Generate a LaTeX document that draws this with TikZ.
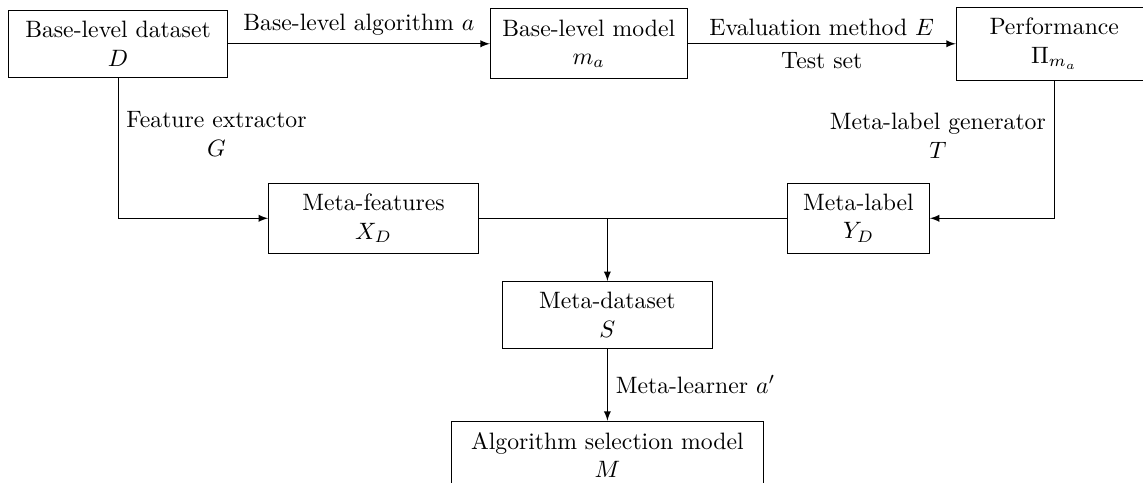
\documentclass[tikz,border=0pt]{standalone}
\usetikzlibrary{
    arrows,
    positioning
}
\tikzstyle{block} = [draw, rectangle, align=center, inner xsep=3.33pt, inner ysep=4.6pt]
\tikzstyle{link} = [->, >=latex]
\tikzstyle{linklabel} = [align=center]

\begin{document}
\begin{tikzpicture}
    \node[block, minimum width=92.4pt] (D) {Base-level dataset\\ $D$};
    \node[block, minimum width=83.1pt] (ma) [right=110.5pt of D] {Base-level model\\ $m_a$};
    \node[block, minimum width=82.7pt] (perf) [right=113.1pt of ma] {Performance\\ $\Pi_{m_a}$};

    \node[block, minimum width=88.6pt] (feat) [below right=44.3pt and 16.9pt of D] {Meta-features\\ $X_D$};
    \node[block, minimum width=59.9pt] (mlabel) [right=130pt of feat] {Meta-label\\ $Y_D$};

    \node[block, minimum width=88.6pt] (mdata) [below right=11.4pt and 9.7pt of feat] {Meta-dataset\\ $S$};
    \node[block, minimum width=131.6pt] (select) [below=30.4pt of mdata] {Algorithm selection model\\ $M$};
    \coordinate (merge) at (mdata.north |- feat.east);

    \draw[link] (D) -- node[above] {Base-level algorithm $a$} (ma);
    \draw[link] (ma) -- node[above] {Evaluation method $E$} node[below] {Test set} (perf);

    \draw[link] (D) |- node[linklabel, right, pos=0.2] {Feature extractor\\ $G$} (feat);
    \draw[link] (perf) |- node[linklabel, left, pos=0.2] {Meta-label generator\\ $T$} (mlabel);

    \draw (feat) -- (mlabel);
    \draw[link] (merge) -- (mdata);
    \draw[link] (mdata) -- node[right] {Meta-learner $a'$} (select);

    % crop like the original figure
    \pgfresetboundingbox
    \useasboundingbox ([xshift=-3.4pt, yshift=4.2pt]D.north west) rectangle ++(482.3pt,-203.4pt);
\end{tikzpicture}
\end{document}
